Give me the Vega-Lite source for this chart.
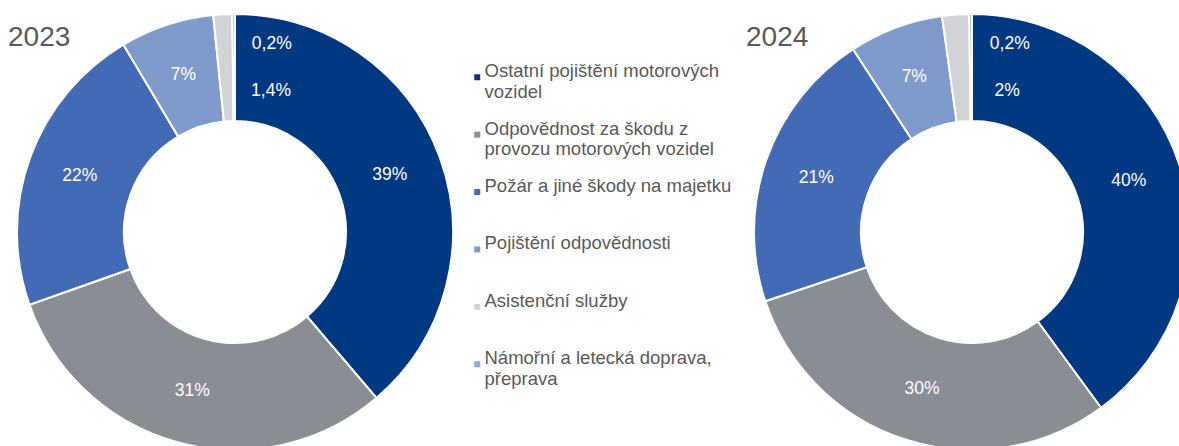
{
  "$schema": "https://vega.github.io/schema/vega-lite/v6.json",
  "width": 1179,
  "height": 428,
  "autosize": {"type": "none"},
  "padding": {"top": 18, "left": 0, "right": 0, "bottom": 0},
  "background": "white",
  "config": {"view": {"stroke": null}, "font": "Liberation Sans", "text": {"font": "Liberation Sans"}},
  "data": {
    "values": [
      {"year": 2023, "order": 1, "category": "Ostatní pojištění motorových vozidel", "value": 39, "label": "39%"},
      {"year": 2023, "order": 2, "category": "Odpovědnost za škodu z provozu motorových vozidel", "value": 31, "label": "31%"},
      {"year": 2023, "order": 3, "category": "Požár a jiné škody na majetku", "value": 22, "label": "22%"},
      {"year": 2023, "order": 4, "category": "Pojištění odpovědnosti", "value": 7, "label": "7%"},
      {"year": 2023, "order": 5, "category": "Asistenční služby", "value": 1.4, "label": "1,4%"},
      {"year": 2023, "order": 6, "category": "Námořní a letecká doprava, přeprava", "value": 0.2, "label": "0,2%"},
      {"year": 2024, "order": 1, "category": "Ostatní pojištění motorových vozidel", "value": 40, "label": "40%"},
      {"year": 2024, "order": 2, "category": "Odpovědnost za škodu z provozu motorových vozidel", "value": 30, "label": "30%"},
      {"year": 2024, "order": 3, "category": "Požár a jiné škody na majetku", "value": 21, "label": "21%"},
      {"year": 2024, "order": 4, "category": "Pojištění odpovědnosti", "value": 7, "label": "7%"},
      {"year": 2024, "order": 5, "category": "Asistenční služby", "value": 2, "label": "2%"},
      {"year": 2024, "order": 6, "category": "Námořní a letecká doprava, přeprava", "value": 0.2, "label": "0,2%"}
    ]
  },
  "encoding": {
    "x": {"field": "year", "type": "ordinal", "scale": {"type": "point", "domain": [2023, 2024], "padding": 0.29986, "align": 0.53167}, "axis": null}
  },
  "layer": [
    {
      "transform": [{"filter": "datum.year == 2023"}],
      "layer": [
        {
          "mark": {"type": "arc", "radius": 218, "radius2": 111, "stroke": "white", "strokeWidth": 2},
          "encoding": {
            "theta": {"field": "value", "type": "quantitative", "stack": true},
            "order": {"field": "order", "type": "quantitative"},
            "color": {
              "field": "category", "type": "nominal",
              "scale": {
                "domain": ["Ostatní pojištění motorových vozidel", "Odpovědnost za škodu z provozu motorových vozidel", "Požár a jiné škody na majetku", "Pojištění odpovědnosti", "Asistenční služby", "Námořní a letecká doprava, přeprava"],
                "range": ["#003882", "#898D94", "#436AB4", "#7F9BCB", "#D1D3D5", "#8EAADB"]
              },
              "legend": {
                "orient": "none", "legendX": 468, "legendY": 50, "title": null, "padding": 0,
                "symbolType": "square", "symbolSize": 36, "symbolStrokeWidth": 0,
                "labelFont": "Liberation Sans", "labelFontSize": 18.5, "labelColor": "#595959",
                "labelOffset": -2, "labelLimit": 400, "labelBaseline": "alphabetic",
                "gridAlign": "all", "rowPadding": 17.4,
                "labelExpr": "datum.label == 'Ostatní pojištění motorových vozidel' ? ['Ostatní pojištění motorových', 'vozidel'] : datum.label == 'Odpovědnost za škodu z provozu motorových vozidel' ? ['Odpovědnost za škodu z', 'provozu motorových vozidel'] : datum.label == 'Námořní a letecká doprava, přeprava' ? ['Námořní a letecká doprava,', 'přeprava'] : datum.label",
                "encode": {"labels": {"update": {"lineHeight": {"value": 22}, "dy": {"value": 5.5}}}}
              }
            }
          }
        },
        {
          "mark": {"type": "text", "radius": 165, "fontSize": 17.5, "color": "white", "align": "center", "baseline": "middle"},
          "encoding": {
            "theta": {"field": "value", "type": "quantitative", "stack": true},
            "order": {"field": "order", "type": "quantitative"},
            "detail": {"field": "category", "type": "nominal"},
            "text": {"field": "label", "type": "nominal", "condition": {"test": "datum.value < 5", "value": ""}}
          }
        },
        {
          "mark": {"type": "text", "radius": 141, "dx": 24, "fontSize": 17.5, "color": "white", "align": "left", "baseline": "middle"},
          "encoding": {
            "theta": {"field": "value", "type": "quantitative", "stack": true},
            "order": {"field": "order", "type": "quantitative"},
            "detail": {"field": "category", "type": "nominal"},
            "text": {"value": "", "condition": {"test": "datum.category == 'Asistenční služby'", "field": "label", "type": "nominal"}}
          }
        },
        {
          "mark": {"type": "text", "radius": 188, "dx": 18, "fontSize": 17.5, "color": "white", "align": "left", "baseline": "middle"},
          "encoding": {
            "theta": {"field": "value", "type": "quantitative", "stack": true},
            "order": {"field": "order", "type": "quantitative"},
            "detail": {"field": "category", "type": "nominal"},
            "text": {"value": "", "condition": {"test": "datum.category == 'Námořní a letecká doprava, přeprava'", "field": "label", "type": "nominal"}}
          }
        },
        {
          "transform": [{"filter": "datum.order == 1"}],
          "mark": {"type": "text", "fontSize": 28, "color": "#595959", "align": "left", "baseline": "middle", "dx": -227, "dy": -194},
          "encoding": {"text": {"field": "year", "type": "nominal"}}
        }
      ]
    },
    {
      "transform": [{"filter": "datum.year == 2024"}],
      "layer": [
        {
          "mark": {"type": "arc", "radius": 218, "radius2": 111, "stroke": "white", "strokeWidth": 2},
          "encoding": {
            "theta": {"field": "value", "type": "quantitative", "stack": true},
            "order": {"field": "order", "type": "quantitative"},
            "color": {"field": "category", "type": "nominal"}
          }
        },
        {
          "mark": {"type": "text", "radius": 165, "fontSize": 17.5, "color": "white", "align": "center", "baseline": "middle"},
          "encoding": {
            "theta": {"field": "value", "type": "quantitative", "stack": true},
            "order": {"field": "order", "type": "quantitative"},
            "detail": {"field": "category", "type": "nominal"},
            "text": {"field": "label", "type": "nominal", "condition": {"test": "datum.value < 5", "value": ""}}
          }
        },
        {
          "mark": {"type": "text", "radius": 141, "dx": 33, "fontSize": 17.5, "color": "white", "align": "left", "baseline": "middle"},
          "encoding": {
            "theta": {"field": "value", "type": "quantitative", "stack": true},
            "order": {"field": "order", "type": "quantitative"},
            "detail": {"field": "category", "type": "nominal"},
            "text": {"value": "", "condition": {"test": "datum.category == 'Asistenční služby'", "field": "label", "type": "nominal"}}
          }
        },
        {
          "mark": {"type": "text", "radius": 188, "dx": 19, "fontSize": 17.5, "color": "white", "align": "left", "baseline": "middle"},
          "encoding": {
            "theta": {"field": "value", "type": "quantitative", "stack": true},
            "order": {"field": "order", "type": "quantitative"},
            "detail": {"field": "category", "type": "nominal"},
            "text": {"value": "", "condition": {"test": "datum.category == 'Námořní a letecká doprava, přeprava'", "field": "label", "type": "nominal"}}
          }
        },
        {
          "transform": [{"filter": "datum.order == 1"}],
          "mark": {"type": "text", "fontSize": 28, "color": "#595959", "align": "left", "baseline": "middle", "dx": -226, "dy": -194},
          "encoding": {"text": {"field": "year", "type": "nominal"}}
        }
      ]
    }
  ],
  "resolve": {"scale": {"theta": "independent"}}
}
